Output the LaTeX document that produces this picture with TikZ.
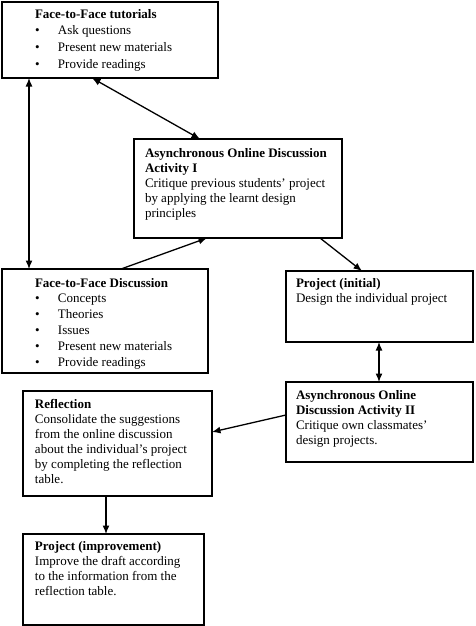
\documentclass[tikz,border=0pt]{standalone}
\usepackage{fontspec}
\setmainfont{Liberation Serif}
\usetikzlibrary{arrows.meta}
% #1 width, #2 height, #3 left margin, #4 baselineskip, #5 first baseline offset, #6 body
\newcommand\bc[6]{\parbox[c][#2][t]{#1}{\fontsize{13pt}{#4}\selectfont\setlength\leftskip{#3}\setlength\parindent{0pt}\raggedright\setlength\leftskip{#3}\rule{0pt}{#5}#6}}
\newcommand\itm[1]{\makebox[23pt][l]{\textbullet}#1}
\tikzset{
  box/.style={draw, line width=1.5pt, inner sep=0pt, outer sep=0pt, anchor=north west},
  arr/.style={line width=1.3pt, -{Latex[length=8.5pt,width=7pt]}},
  darr/.style={line width=1.3pt, {Latex[length=8.5pt,width=7pt]}-{Latex[length=8.5pt,width=7pt]}}
}
\begin{document}
\begin{tikzpicture}[x=1pt,y=1pt]
\useasboundingbox (0,0) rectangle (475,-626);
\node[box] (b1) at (2,-2) {\bc{216pt}{76pt}{33pt}{16.7pt}{16pt}{\textbf{Face-to-Face tutorials}\\\itm{Ask questions}\\\itm{Present new materials}\\\itm{Provide readings}}};
\node[box] (b2) at (134,-139) {\bc{208pt}{99pt}{11pt}{15pt}{18pt}{\textbf{Asynchronous Online Discussion}\\\textbf{Activity I}\\Critique previous students' project\\by applying the learnt design\\principles}};
\node[box] (b3) at (2,-269) {\bc{206pt}{104pt}{33pt}{15.8pt}{18pt}{\textbf{Face-to-Face Discussion}\\\itm{Concepts}\\\itm{Theories}\\\itm{Issues}\\\itm{Present new materials}\\\itm{Provide readings}}};
\node[box] (b4) at (286,-271) {\bc{187pt}{71pt}{10pt}{15pt}{16pt}{\textbf{Project (initial)}\\Design the individual project}};
\node[box] (b5) at (286,-382) {\bc{187pt}{80pt}{10pt}{15pt}{17pt}{\textbf{Asynchronous Online}\\\textbf{Discussion Activity II}\\Critique own classmates'\\design projects.}};
\node[box] (b6) at (23,-391) {\bc{189pt}{105pt}{12pt}{15pt}{17pt}{\textbf{Reflection}\\Consolidate the suggestions\\from the online discussion\\about the individual's project\\by completing the reflection\\table.}};
\node[box] (b7) at (23,-534) {\bc{181pt}{91pt}{12pt}{15pt}{16pt}{\textbf{Project (improvement)}\\Improve the draft according\\to the information from the\\reflection table.}};
\draw[darr] ([xshift=27pt]b1.south west) -- ([xshift=27pt]b3.north west);
\draw[darr] ([xshift=90pt]b1.south west) -- ([xshift=66pt]b2.north west);
\draw[arr] ([xshift=119pt]b3.north west) -- ([xshift=73pt]b2.south west);
\draw[arr] ([xshift=186pt]b2.south west) -- ([xshift=76pt]b4.north west);
\draw[darr] ([xshift=93pt]b4.south west) -- ([xshift=93pt]b5.north west);
\draw[arr] ([yshift=-33pt]b5.north west) -- ([yshift=-41pt]b6.north east);
\draw[arr] ([xshift=83pt]b6.south west) -- ([xshift=83pt]b7.north west);
\end{tikzpicture}
\end{document}
